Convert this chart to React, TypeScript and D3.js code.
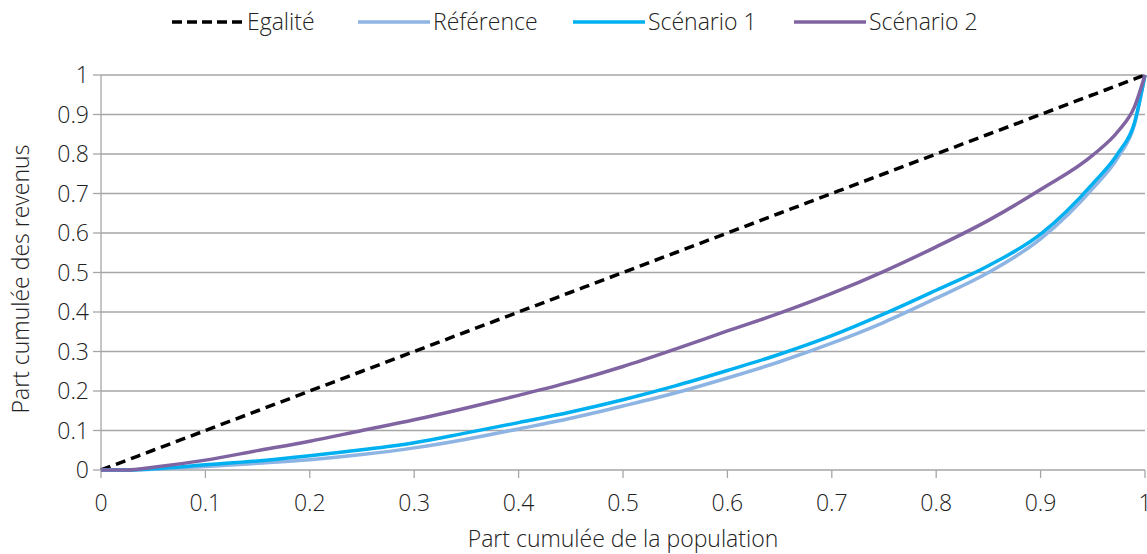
import React from "react";
import * as d3 from "d3";

const population = [0, 0.025, 0.05, 0.1, 0.15, 0.2, 0.25, 0.3, 0.35, 0.4, 0.45, 0.5, 0.55, 0.6, 0.65, 0.7, 0.75, 0.8, 0.85, 0.9, 0.95, 0.975, 0.99, 1];
const egalite = population.map((p) => p);
const reference = [0, 0, 0.002, 0.009, 0.017, 0.026, 0.039, 0.056, 0.078, 0.104, 0.131, 0.162, 0.195, 0.233, 0.274, 0.321, 0.374, 0.435, 0.5, 0.585, 0.713, 0.795, 0.875, 1];
const scenario1 = [0, 0, 0.003, 0.013, 0.023, 0.036, 0.051, 0.069, 0.094, 0.12, 0.147, 0.178, 0.213, 0.252, 0.293, 0.34, 0.395, 0.455, 0.517, 0.597, 0.725, 0.805, 0.88, 1];
const scenario2 = [0, 0, 0.007, 0.025, 0.049, 0.073, 0.1, 0.127, 0.157, 0.189, 0.223, 0.262, 0.306, 0.352, 0.397, 0.447, 0.503, 0.565, 0.632, 0.71, 0.797, 0.86, 0.92, 1];
const xTicks = [0, 0.1, 0.2, 0.3, 0.4, 0.5, 0.6, 0.7, 0.8, 0.9, 1];
const yTicks = [0, 0.1, 0.2, 0.3, 0.4, 0.5, 0.6, 0.7, 0.8, 0.9, 1];

const seriesNames = ["Egalité", "Référence", "Scénario 1", "Scénario 2"];
const seriesValues = [egalite, reference, scenario1, scenario2];
const seriesColors = ["#000000", "#8DB4E2", "#00B0F0", "#8064A2"];
const seriesDash = ["10,6", null, null, null];

const W = 1147;
const H = 554;
const FONT = "'Open Sans', 'Liberation Sans', Arial, sans-serif";
const FS = 23;

export default function App() {
  const x = d3.scaleLinear().domain([0, 1]).range([101, 1145]);
  const y = d3.scaleLinear().domain([0, 1]).range([470, 75]);
  const line = d3
    .line<number>()
    .x((_, i) => x(population[i]))
    .y((d) => y(d))
    .curve(d3.curveMonotoneX);

  const legendX = [172, 358, 573, 794];
  const fmt = (v: number) => (v === 0 || v === 1 ? String(v) : v.toFixed(1));

  return (
    <svg width={W} height={H} style={{ position: "absolute", left: 0, top: 0, background: "#fff" }} fontFamily={FONT} fontWeight={300}>
      {yTicks.map((t) => (
        <line key={"g" + t} x1={x(0)} x2={x(1)} y1={y(t)} y2={y(t)} stroke="#a6a6a6" strokeWidth={1.3} />
      ))}
      <line x1={x(0)} x2={x(0)} y1={y(0)} y2={y(1)} stroke="#a6a6a6" strokeWidth={1.3} />
      {yTicks.map((t) => (
        <g key={"yt" + t}>
          <line x1={x(0) - 8} x2={x(0)} y1={y(t)} y2={y(t)} stroke="#a6a6a6" strokeWidth={1.3} />
          <text x={89} y={y(t)} dy="0.36em" textAnchor="end" fontSize={FS} fill="#222">
            {fmt(t)}
          </text>
        </g>
      ))}
      {xTicks.map((t) => (
        <g key={"xt" + t}>
          <line x1={x(t)} x2={x(t)} y1={y(0)} y2={y(0) + 8} stroke="#a6a6a6" strokeWidth={1.3} />
          <text x={x(t)} y={511} textAnchor="middle" fontSize={FS} fill="#222">
            {fmt(t)}
          </text>
        </g>
      ))}
      <text x={623} y={547} textAnchor="middle" fontSize={FS} fill="#222">
        Part cumulée de la population
      </text>
      <text transform={`translate(29, 279) rotate(-90)`} textAnchor="middle" fontSize={FS} fill="#222">
        Part cumulée des revenus
      </text>
      {seriesValues.map((vals, i) => (
        <path
          key={"s" + i}
          d={line(vals) || ""}
          fill="none"
          stroke={seriesColors[i]}
          strokeWidth={3.5}
          strokeDasharray={seriesDash[i] || undefined}
        />
      ))}
      {seriesNames.map((n, i) => (
        <g key={"l" + i}>
          <line
            x1={legendX[i]}
            x2={legendX[i] + 72}
            y1={22}
            y2={22}
            stroke={seriesColors[i]}
            strokeWidth={3.5}
            strokeDasharray={seriesDash[i] ? "10,5" : undefined}
          />
          <text x={legendX[i] + 75} y={22} dy="0.36em" fontSize={FS} fill="#222">
            {n}
          </text>
        </g>
      ))}
    </svg>
  );
}
